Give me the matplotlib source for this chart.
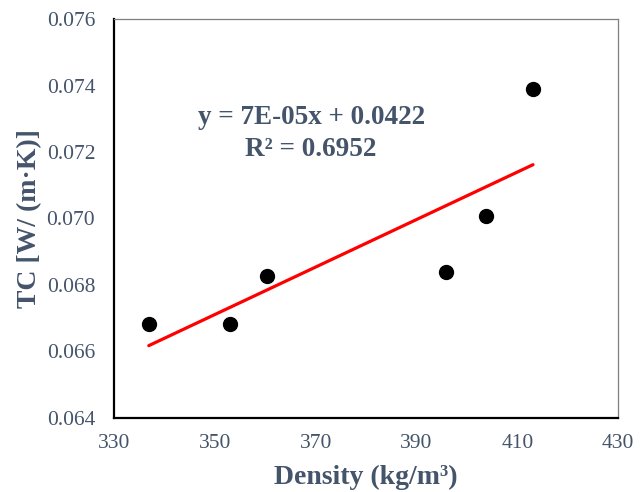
import numpy as np
import matplotlib
matplotlib.use('Agg')
import matplotlib.pyplot as plt

density = [336.9, 353.0, 360.4, 395.8, 403.7, 413.1]
tc = [0.06682, 0.06683, 0.06828, 0.06840, 0.07006, 0.07390]

x_ticks = [330, 350, 370, 390, 410, 430]
y_ticks = [0.064, 0.066, 0.068, 0.070, 0.072, 0.074, 0.076]

TEXT_COLOR = '#44546A'

plt.rcParams['font.family'] = ['Liberation Serif', 'DejaVu Serif']

fig = plt.figure(figsize=(6.44, 4.92), dpi=100)
ax = fig.add_axes([0.177, 0.151, 0.783, 0.810])

# linear trendline
coeffs = np.polyfit(density, tc, 1)
poly = np.poly1d(coeffs)
xs = np.array([min(density), max(density)])
ax.plot(xs, poly(xs), color='#FF0000', lw=2.3, solid_capstyle='round', zorder=2)

ax.plot(density, tc, 'o', color='black', markersize=10, zorder=3)

ax.set_xlim(330, 430)
ax.set_ylim(0.064, 0.076)
ax.set_xticks(x_ticks)
ax.set_yticks(y_ticks)
ax.set_yticklabels(['%.3f' % v for v in y_ticks])
ax.tick_params(length=0, labelsize=15.5, colors=TEXT_COLOR)
ax.tick_params(axis='y', pad=13.5)
ax.tick_params(axis='x', pad=12)

for side in ['left', 'bottom']:
    ax.spines[side].set_color('black')
    ax.spines[side].set_linewidth(1.6)
for side in ['top', 'right']:
    ax.spines[side].set_color('#7F7F7F')
    ax.spines[side].set_linewidth(0.9)

ax.set_xlabel('Density (kg/m\u00b3)', fontsize=20, fontweight='bold', color=TEXT_COLOR, labelpad=8)
ax.set_ylabel('TC [W/ (m\u00b7K)]', fontsize=20, fontweight='bold', color=TEXT_COLOR, labelpad=3)

ax.text(0.391, 0.754, 'y = 7E-05x + 0.0422', transform=ax.transAxes, ha='center', va='center',
        fontsize=19.5, fontweight='bold', color=TEXT_COLOR)
ax.text(0.391, 0.674, 'R\u00b2 = 0.6952', transform=ax.transAxes, ha='center', va='center',
        fontsize=19.5, fontweight='bold', color=TEXT_COLOR)

fig.savefig('out.png', dpi=100)
